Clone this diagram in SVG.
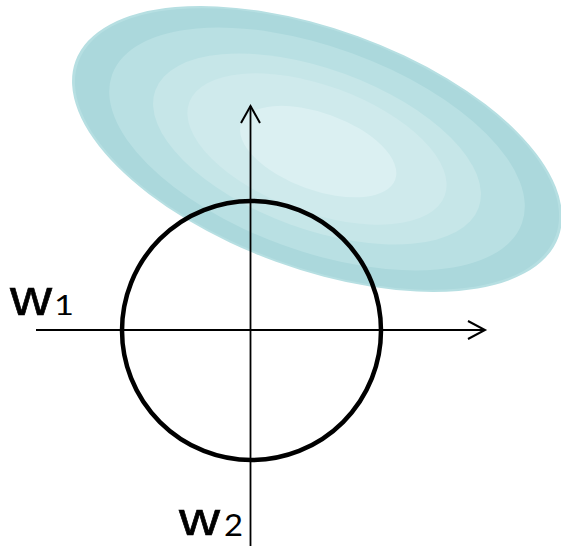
<svg xmlns="http://www.w3.org/2000/svg" width="561" height="548" viewBox="0 0 561 548">
<style>
.ax{stroke:#000;stroke-width:1.8;fill:none}
.ah{stroke:#000;stroke-width:2;fill:none;stroke-linejoin:miter}
.lbl{font-family:"Liberation Sans",Lato,sans-serif;fill:#000;stroke:#000;stroke-width:0.6}
.dig{font-family:Lato,"Liberation Sans",sans-serif;fill:#000}
</style>
<rect width="561" height="548" fill="#fff"/>
<g id="contours" transform="translate(317 149) rotate(20)">
<ellipse rx="257" ry="120" fill="#b6dfe2"/>
<ellipse rx="254" ry="118" fill="#abd8dc"/>
<ellipse rx="218" ry="102" fill="#b9e0e3"/>
<ellipse rx="172" ry="80" fill="#c6e6e8"/>
<ellipse rx="136" ry="63.5" fill="#cfeaec"/>
<ellipse cx="2" cy="2" rx="82" ry="38.5" fill="#dbf0f2"/>
</g>
<g id="connectors">
<line class="ax" x1="36" y1="330" x2="485" y2="330"/>
<polyline class="ah" points="468,321 485,330 468,339"/>
<line class="ax" x1="250.5" y1="546" x2="250.5" y2="106"/>
<polyline class="ah" points="241,123 250.5,106 260,123"/>
</g>
<g id="circle">
<circle cx="251.5" cy="330.5" r="129.5" fill="none" stroke="#000" stroke-width="4.5"/>
</g>
<g id="label-w1">
<text class="lbl" x="10" y="315" font-size="50" textLength="42" lengthAdjust="spacingAndGlyphs">w</text>
<text class="dig" x="54" y="315" font-size="26" textLength="20" lengthAdjust="spacingAndGlyphs">1</text>
</g>
<g id="label-w2">
<text class="lbl" x="179" y="535" font-size="46" textLength="41" lengthAdjust="spacingAndGlyphs">w</text>
<text class="dig" x="224" y="536" font-size="30" textLength="19" lengthAdjust="spacingAndGlyphs">2</text>
</g>
</svg>
